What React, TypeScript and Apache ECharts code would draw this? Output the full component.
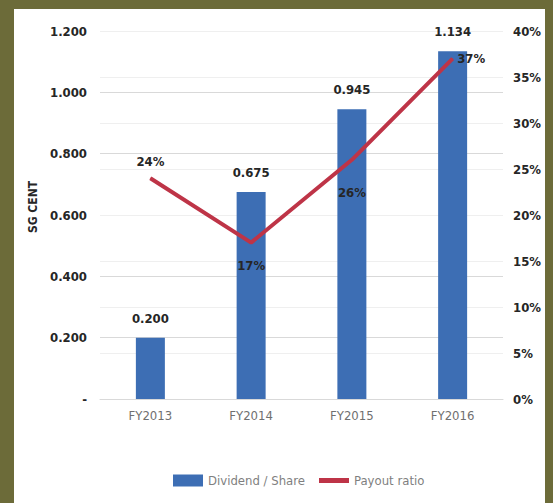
import React, { useEffect, useRef } from "react";
import * as echarts from "echarts";

const categories = ["FY2013", "FY2014", "FY2015", "FY2016"];
const dividendPerShare = [0.2, 0.675, 0.945, 1.134];
const payoutRatio = [24, 17, 26, 37];
const payoutLabelPos = ["top", "bottom", "bottom", "right"];
const payoutLabelDist = [10, 16, 26, 4];

const FONT = "'Liberation Sans Narrow', 'DejaVu Sans Condensed', 'Liberation Sans', sans-serif";

export default function App() {
  const ref = useRef<HTMLDivElement>(null);
  useEffect(() => {
    document.body.style.margin = "0";
    const chart = echarts.init(ref.current!, null, { renderer: "svg" });
    chart.setOption({
      animation: false,
      backgroundColor: "#6c6b39",
      textStyle: { fontFamily: FONT },
      graphic: [
        {
          type: "rect",
          z: -10,
          shape: { x: 14, y: 9, width: 531, height: 494 },
          style: { fill: "#ffffff" },
          silent: true,
        },
      ],
      grid: { left: 100, right: 50, top: 31, bottom: 104, containLabel: false },
      legend: {
        bottom: 11,
        left: 168,
        itemWidth: 30,
        itemHeight: 12,
        itemGap: 14,
        textStyle: { color: "#7f7f7f", fontSize: 13, fontFamily: FONT },
        data: [
          { name: "Dividend / Share", icon: "rect" },
          { name: "Payout ratio", icon: "path://M0,0 H30 V5 H0 Z" },
        ],
      },
      xAxis: {
        type: "category",
        data: categories,
        axisLine: { show: true, lineStyle: { color: "#d9d9d9", width: 1 } },
        axisTick: { show: false },
        axisLabel: { color: "#6f6f6f", fontSize: 13, margin: 10, fontFamily: FONT },
      },
      yAxis: [
        {
          type: "value",
          min: 0,
          max: 1.2,
          interval: 0.2,
          name: "SG CENT",
          nameLocation: "middle",
          nameGap: 52,
          nameRotate: 90,
          nameTextStyle: { color: "#262626", fontSize: 12, fontWeight: "bold", fontFamily: FONT, padding: [0, 0, 0, 16] },
          axisLine: { show: false },
          axisTick: { show: false },
          axisLabel: {
            color: "#262626",
            fontSize: 13,
            fontWeight: "bold",
            margin: 13,
            fontFamily: FONT,
            formatter: (v: number) => (v === 0 ? "-" : v.toFixed(3)),
          },
          splitLine: { lineStyle: { color: "#d9d9d9", width: 1 } },
        },
        {
          type: "value",
          min: 0,
          max: 40,
          interval: 5,
          axisLine: { show: false },
          axisTick: { show: false },
          axisLabel: {
            color: "#262626",
            fontSize: 13,
            fontWeight: "bold",
            margin: 10,
            fontFamily: FONT,
            formatter: "{value}%",
          },
          splitLine: { show: true, lineStyle: { color: "#efefef", width: 1 } },
        },
      ],
      series: [
        {
          name: "Dividend / Share",
          type: "bar",
          yAxisIndex: 0,
          data: dividendPerShare,
          barWidth: 29,
          itemStyle: { color: "#3d6eb4" },
          label: {
            show: true,
            position: "top",
            distance: 13,
            color: "#262626",
            fontSize: 13,
            fontWeight: "bold",
            fontFamily: FONT,
            formatter: (p: any) => Number(p.value).toFixed(3),
          },
        },
        {
          name: "Payout ratio",
          type: "line",
          yAxisIndex: 1,
          symbol: "circle",
          symbolSize: 1,
          showSymbol: true,
          lineStyle: { color: "#be3447", width: 4 },
          itemStyle: { color: "#be3447" },
          label: {
            show: true,
            color: "#262626",
            fontSize: 13,
            fontWeight: "bold",
            fontFamily: FONT,
            formatter: "{c}%",
          },
          data: payoutRatio.map((v, i) => ({
            value: v,
            label: {
              show: true,
              position: payoutLabelPos[i],
              distance: payoutLabelDist[i],
            },
          })),
        },
      ],
    });
    return () => chart.dispose();
  }, []);
  return <div ref={ref} style={{ width: 553, height: 503 }} />;
}
